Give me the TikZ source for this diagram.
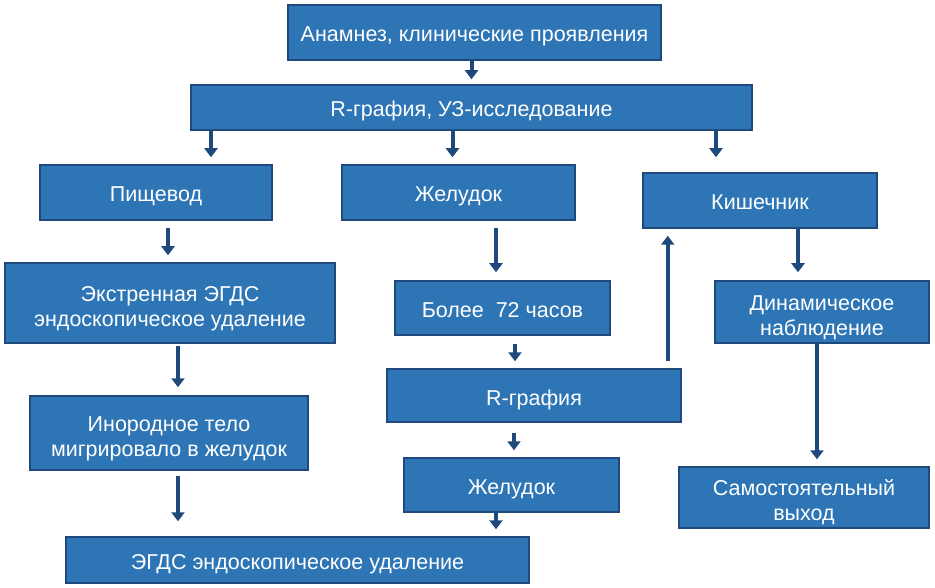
\documentclass[tikz,border=0pt]{standalone}
\usepackage{fontspec}
\setmainfont{Liberation Sans}
\usetikzlibrary{arrows.meta}
\definecolor{boxblue}{RGB}{46,117,182}
\definecolor{navy}{RGB}{31,73,125}
\newcommand{\lift}{\rule[-7pt]{0pt}{33pt}}

\begin{document}
\begin{tikzpicture}[x=1pt, y=-1pt, font=\fontsize{21.5}{25}\selectfont,
	box/.style={draw=navy, line width=1.5pt, fill=boxblue, text=white, align=center, inner sep=0pt},
	arr/.style={draw=navy, line width=4pt, -{Triangle[width=13pt,length=9pt]}}]
	\useasboundingbox (0,0) rectangle (935,588);
	\node[box, minimum width=373, minimum height=55] (anam) at (474.5,32.5) {\lift Анамнез, клинические проявления};
	\node[box, minimum width=561, minimum height=45] (rgr) at (471.5,107.5) {\lift R-графия, УЗ-исследование};
	\node[box, minimum width=232, minimum height=55] (pish) at (156,192.5) {\lift Пищевод};
	\node[box, minimum width=233, minimum height=55] (zhel) at (458.5,192.5) {\lift Желудок};
	\node[box, minimum width=234, minimum height=55] (kish) at (760,200.5) {\lift Кишечник};
	\node[box, minimum width=330, minimum height=80] (ekst) at (170,303) {\lift Экстренная ЭГДС\\эндоскопическое удаление};
	\node[box, minimum width=215, minimum height=54] (bolee) at (502.5,308) {\lift Более~ 72 часов};
	\node[box, minimum width=214, minimum height=62] (dinam) at (822,312) {\lift Динамическое\\наблюдение};
	\node[box, minimum width=278, minimum height=74] (inor) at (169,433) {\lift Инородное тело\\мигрировало в желудок};
	\node[box, minimum width=294, minimum height=53] (rgr2) at (534,395.5) {\lift R-графия};
	\node[box, minimum width=250, minimum height=61] (samost) at (804,497.5) {\lift Самостоятельный\\выход};
	\node[box, minimum width=215, minimum height=54] (zhel2) at (511.5,485) {\lift Желудок};
	\node[box, minimum width=463, minimum height=46] (egds) at (297.5,560) {\lift ЭГДС эндоскопическое удаление};

	\coordinate (p1) at ([xshift=55]pish.north);
	\coordinate (z1) at ([xshift=-6]zhel.north);
	\coordinate (k1) at ([xshift=-44]kish.north);
	\coordinate (p2) at ([xshift=12]pish.south);
	\coordinate (b1) at ([xshift=-6.5]bolee.north);
	\coordinate (d1) at ([xshift=-24]dinam.north);
	\coordinate (e1) at ([xshift=8]ekst.south);
	\coordinate (b2) at ([xshift=12.5]bolee.south);
	\coordinate (r1) at ([xshift=-14]rgr2.north east);
	\coordinate (d2) at ([xshift=-5]dinam.south);
	\coordinate (r2) at ([xshift=-20]rgr2.south);
	\coordinate (i1) at ([xshift=9]inor.south);
	\coordinate (z2) at ([xshift=-15.5]zhel2.south);

	\draw[arr, shorten >=5] (anam.south -| rgr.north) -- (rgr.north);
	\draw[arr, shorten >=7] (p1 |- rgr.south) -- (p1);
	\draw[arr, shorten >=7] (z1 |- rgr.south) -- (z1);
	\draw[arr, shorten >=15] (k1 |- rgr.south) -- (k1);
	\draw[arr, shorten <=7, shorten >=7] (p2) -- (p2 |- ekst.north);
	\draw[arr, shorten <=7, shorten >=8] (b1 |- zhel.south) -- (b1);
	\draw[arr, shorten >=8] (d1 |- kish.south) -- (d1);
	\draw[arr, shorten <=2, shorten >=8] (e1) -- (e1 |- inor.north);
	\draw[arr, shorten <=8, shorten >=7] (b2) -- (b2 |- rgr2.north);
	\draw[arr, shorten <=7, shorten >=7] (r1) -- (r1 |- kish.south);
	\draw[arr, shorten >=7] (d2) -- (d2 |- samost.north);
	\draw[arr, shorten <=10, shorten >=7] (r2) -- (r2 |- zhel2.north);
	\draw[arr, shorten <=5, shorten >=15] (i1) -- (i1 |- egds.north);
	\draw[arr, shorten >=7] (z2) -- (z2 |- egds.north);
\end{tikzpicture}
\end{document}
